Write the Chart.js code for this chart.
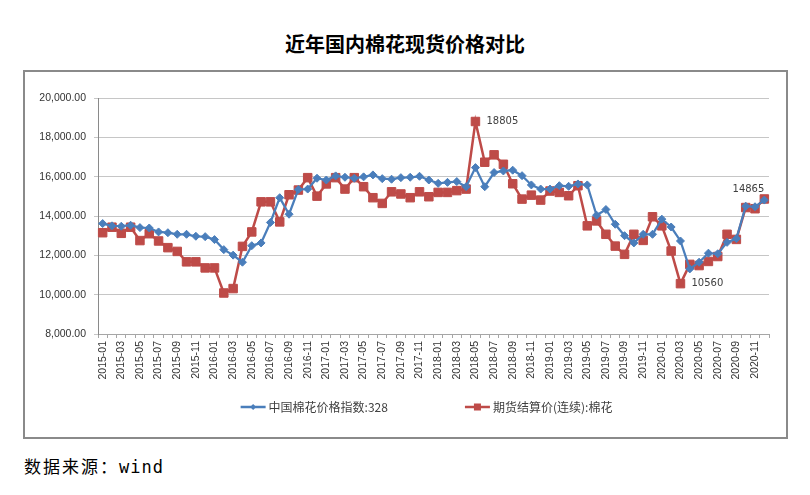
<!DOCTYPE html>
<html>
<head>
<meta charset="utf-8">
<script src="https://cdn.jsdelivr.net/npm/chart.js@4.4.0/dist/chart.umd.min.js"></script>
<style>
body{margin:0;width:810px;height:495px;background:#fff;position:relative;overflow:hidden;font-family:"Noto Sans CJK SC",sans-serif}
#title{position:absolute;left:0;top:30px;width:810px;text-align:center;font-size:20px;font-weight:bold;line-height:28px;color:#000}
#box{position:absolute;left:23px;top:70px;width:765px;height:369px;border:2px solid #8a8a8a;box-sizing:border-box}
#wrap{position:relative;width:761px;height:365px}
#src{position:absolute;left:24px;top:455px;font-size:17px;line-height:22px;letter-spacing:2px;color:#000}
#src span{font-family:"DejaVu Sans Mono",monospace;letter-spacing:1px}
</style>
</head>
<body>
<div id="title">近年国内棉花现货价格对比</div>
<div id="box"><div id="wrap"><canvas id="myChart"></canvas></div></div>
<div id="src">数据来源：<span>wind</span></div>
<script>
// months 2015-01 .. 2020-12
const months = [];
for (let y = 2015; y <= 2020; y++) {
    for (let m = 1; m <= 12; m++) months.push(y + '-' + String(m).padStart(2, '0'));
}

const seriesNames = ['中国棉花价格指数:328', '期货结算价(连续):棉花'];

const cottonIndex = [
    13615, 13500, 13480, 13530, 13410, 13390, 13190, 13150, 13070, 13070, 12970, 12950,
    12800, 12290, 12010, 11650, 12490, 12630, 13670, 14930, 14090, 15350, 15370, 15920,
    15830, 16040, 15970, 15920, 15990, 16090, 15900, 15870, 15950, 15970, 16020, 15830,
    15660, 15710, 15750, 15490, 16460, 15490, 16210, 16290, 16330, 16050, 15580, 15370,
    15370, 15540, 15510, 15630, 15580, 14040, 14330, 13580, 13000, 12630, 13070, 13070,
    13840, 13440, 12730, 11310, 11650, 12110, 12080, 12660, 12850, 14500, 14470, 14810
];

const futuresPrice = [
    13150, 13430, 13120, 13430, 12750, 13100, 12730, 12390, 12200, 11670, 11670, 11360,
    11360, 10085, 10310, 12455, 13190, 14720, 14720, 13700, 15080, 15320, 15950, 15010,
    15630, 15950, 15370, 15950, 15490, 14930, 14640, 15230, 15120, 14930, 15230, 14980,
    15200, 15200, 15290, 15370, 18805, 16735, 17110, 16630, 15640, 14860, 15060, 14810,
    15270, 15200, 15030, 15540, 13500, 13750, 13070, 12470, 12050, 13070, 12760, 13960,
    13500, 12220, 10560, 11540, 11480, 11690, 11940, 13070, 12810, 14430, 14370, 14865
];

// points of the futures series that carry a value label
const labelled = [40, 62, 71];

const yMin = 8000, yMax = 20000, yStep = 2000;

const blue = '#4a7ebb';
const red = '#be4b48';

const valueLabels = {
    id: 'valueLabels',
    afterDatasetsDraw(chart) {
        const ctx = chart.ctx;
        const meta = chart.getDatasetMeta(1);
        ctx.save();
        ctx.font = '10px "DejaVu Sans"';
        ctx.fillStyle = '#404040';
        ctx.textBaseline = 'middle';
        labelled.forEach(function(i) {
            const p = meta.data[i];
            if (i === futuresPrice.length - 1) {
                ctx.textAlign = 'right';
                ctx.fillText(String(futuresPrice[i]), p.x, p.y - 10);
            } else {
                ctx.textAlign = 'left';
                ctx.fillText(String(futuresPrice[i]), p.x + 11, p.y);
            }
        });
        ctx.restore();
    }
};

const bottomLegend = {
    id: 'bottomLegend',
    afterDraw(chart) {
        const ctx = chart.ctx;
        const y = chart.scales.x.bottom + 17;
        ctx.save();
        ctx.font = '12px "Noto Sans CJK SC"';
        ctx.textAlign = 'left';
        ctx.textBaseline = 'middle';
        const items = chart.data.datasets.map(function(ds) {
            return {ds: ds, w: 28 + ctx.measureText(ds.label).width};
        });
        const gap = 77;
        const total = items[0].w + items[1].w + gap;
        let x = (chart.chartArea.left + chart.chartArea.right) / 2 - total / 2 - 7;
        items.forEach(function(it) {
            const c = it.ds.borderColor;
            ctx.strokeStyle = c;
            ctx.lineWidth = 2.5;
            ctx.beginPath();
            ctx.moveTo(x, y);
            ctx.lineTo(x + 25, y);
            ctx.stroke();
            ctx.fillStyle = c;
            const cx = x + 12.5;
            if (it.ds.pointStyle === 'rect') {
                ctx.fillRect(cx - 3.5, y - 3.5, 7, 7);
            } else {
                ctx.beginPath();
                ctx.moveTo(cx - 3, y);
                ctx.lineTo(cx, y - 3);
                ctx.lineTo(cx + 3, y);
                ctx.lineTo(cx, y + 3);
                ctx.closePath();
                ctx.fill();
            }
            ctx.fillStyle = '#404040';
            ctx.fillText(it.ds.label, x + 28, y);
            x += it.w + gap;
        });
        ctx.restore();
    }
};

const config = {
    type: 'line',
    data: {
        labels: months,
        datasets: [
            {
                label: seriesNames[0],
                data: cottonIndex,
                borderColor: blue,
                backgroundColor: blue,
                borderWidth: 2.25,
                pointStyle: 'rectRot',
                pointRadius: 4,
                pointBorderWidth: 1,
                tension: 0
            },
            {
                label: seriesNames[1],
                data: futuresPrice,
                borderColor: red,
                backgroundColor: red,
                borderWidth: 2.5,
                pointStyle: 'rect',
                pointRadius: 6,
                pointBorderWidth: 1,
                tension: 0
            }
        ]
    },
    options: {
        responsive: true,
        maintainAspectRatio: false,
        animation: false,
        layout: {
            padding: {top: 26, right: 17, bottom: 47, left: 0}
        },
        plugins: {
            legend: {display: false},
            title: {display: false},
            tooltip: {enabled: false}
        },
        scales: {
            x: {
                offset: true,
                grid: {
                    offset: true,
                    drawOnChartArea: false,
                    drawTicks: true,
                    tickLength: 4,
                    color: '#a6a6a6'
                },
                border: {color: '#a6a6a6'},
                ticks: {
                    autoSkip: false,
                    maxRotation: 90,
                    minRotation: 90,
                    padding: 3,
                    color: '#333',
                    font: {family: 'Liberation Sans', size: 10.5},
                    callback: function(v, i) { return i % 2 === 0 ? months[i] : ''; }
                },
                afterFit: function(scale) { scale.height = 56; }
            },
            y: {
                min: yMin,
                max: yMax,
                grid: {
                    color: '#c6c6c6',
                    tickLength: 4
                },
                border: {color: '#8a8a8a'},
                ticks: {
                    stepSize: yStep,
                    padding: 8,
                    color: '#333',
                    font: {family: 'Liberation Sans', size: 10.5},
                    callback: function(v) {
                        return v.toLocaleString('en-US', {minimumFractionDigits: 2, maximumFractionDigits: 2});
                    }
                },
                afterFit: function(scale) { scale.width = 73; }
            }
        }
    },
    plugins: [valueLabels, bottomLegend]
};

document.addEventListener('DOMContentLoaded', function() {
    new Chart(document.getElementById('myChart'), config);
});
</script>
</body>
</html>
